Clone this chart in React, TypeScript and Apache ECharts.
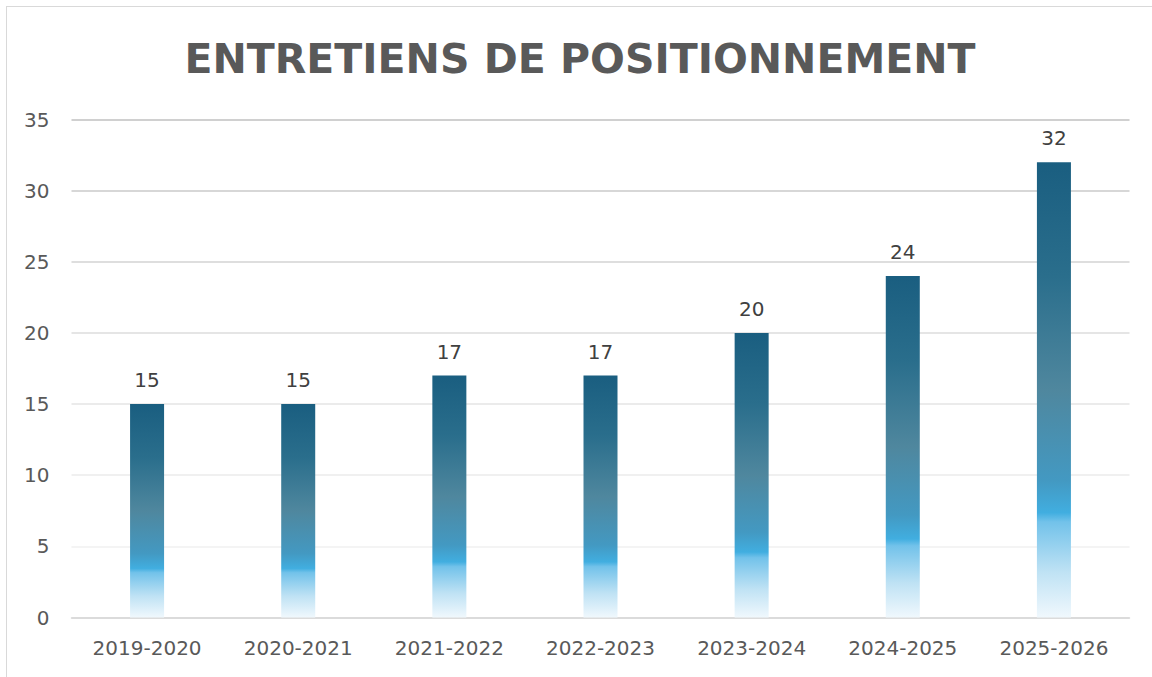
import React, { useEffect, useRef } from "react";
import * as echarts from "echarts";

const categories = ["2019-2020", "2020-2021", "2021-2022", "2022-2023", "2023-2024", "2024-2025", "2025-2026"];
const values = [15, 15, 17, 17, 20, 24, 32];
const title = "ENTRETIENS DE POSITIONNEMENT";
const gridColors = ["#d9d9d9", "#f0f0f0", "#ebebeb", "#e4e4e4", "#dcdcdc", "#d3d3d3", "#cacaca", "#c0c0c0"];

const FONT = "DejaVu Sans";

export default function App() {
  const ref = useRef<HTMLDivElement>(null);
  useEffect(() => {
    document.body.style.margin = "0";
    const chart = echarts.init(ref.current!, null, { renderer: "svg" });
    chart.setOption({
      animation: false,
      backgroundColor: "#ffffff",
      title: {
        text: title,
        left: "center",
        top: 26,
        textStyle: {
          fontFamily: FONT,
          fontWeight: "bold",
          fontSize: 41,
          color: "#595959",
        },
      },
      grid: { left: 64.5, right: 23.5, top: 112.5, bottom: 65.5, containLabel: false },
      xAxis: {
        type: "category",
        data: categories,
        axisTick: { show: false },
        axisLine: { lineStyle: { color: "#d9d9d9", width: 1.5 } },
        axisLabel: { color: "#595959", fontSize: 20, fontFamily: FONT, margin: 20 },
      },
      yAxis: {
        type: "value",
        min: 0,
        max: 35,
        interval: 5,
        axisLine: { show: false },
        axisTick: { show: false },
        axisLabel: { color: "#595959", fontSize: 20, fontFamily: FONT, margin: 22 },
        splitLine: { lineStyle: { color: gridColors, width: 1.5 } },
      },
      series: [
        {
          type: "bar",
          data: values,
          barWidth: "22.5%",
          label: {
            show: true,
            position: "top",
            distance: 14,
            color: "#404040",
            fontSize: 20,
            fontFamily: FONT,
          },
          itemStyle: {
            color: new echarts.graphic.LinearGradient(0, 0, 0, 1, [
              { offset: 0, color: "#1a5e80" },
              { offset: 0.25, color: "#2a6e8c" },
              { offset: 0.5, color: "#4f879e" },
              { offset: 0.7, color: "#4399c2" },
              { offset: 0.77, color: "#41aee0" },
              { offset: 0.79, color: "#72c2ea" },
              { offset: 0.9, color: "#bfe2f4" },
              { offset: 1, color: "#f0f8fd" },
            ]),
          },
        },
      ],
    });
    return () => chart.dispose();
  }, []);
  return (
    <div style={{ position: "absolute", left: 6, top: 6, width: 1150, height: 680, border: "1.5px solid #d9d9d9", boxSizing: "border-box", background: "#fff" }}>
      <div ref={ref} style={{ width: 1146, height: 676 }} />
    </div>
  );
}
